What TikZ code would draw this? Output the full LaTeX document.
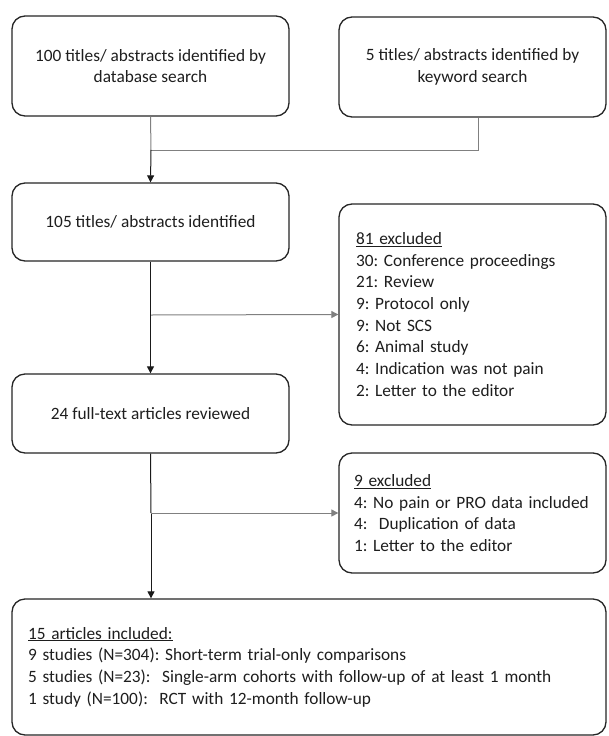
\documentclass[tikz,border=0pt]{standalone}
\usepackage{fontspec}
\setmainfont{Carlito}
\usetikzlibrary{arrows.meta}
\definecolor{boxc}{HTML}{262626}
\definecolor{txtc}{HTML}{1E1E1E}
\definecolor{mainc}{HTML}{1A1A1A}
\definecolor{branchc}{HTML}{808080}
\frenchspacing
\hyphenpenalty=10000
\begin{document}
\begin{tikzpicture}[x=1pt,y=-1pt,
  box/.style={draw=boxc, line width=1.3pt, rounded corners=13pt,
    font=\fontsize{17.3pt}{21.7pt}\selectfont\frenchspacing,
    text=txtc, inner sep=0pt},
  cbox/.style={box, align=center},
  lbox/.style={box, align=left},
  mainline/.style={draw=mainc, line width=1pt},
  branchline/.style={draw=branchc, line width=1pt},
  tip/.style={-{Triangle[length=7pt,width=7pt]}}
]
\fill[white] (0,0) rectangle (608,736);
\useasboundingbox (0,0) rectangle (608,736);

\node[cbox, minimum width=277pt, minimum height=100pt] (b1) at (150.5,66)
  {100 titles/ abstracts identified by\\database search};
\node[cbox, minimum width=267pt, minimum height=100pt] (b2) at (472.5,67)
  {5 titles/ abstracts identified by\\keyword search};
\node[cbox, minimum width=277pt, minimum height=78pt] (b3) at (150.5,222)
  {105 titles/ abstracts identified};
\node[lbox, minimum height=221pt, text width=233pt, inner xsep=17pt] (b81) at (472.5,314.5)
  {\underline{81 excluded}\\
   30: Conference proceedings\\
   21: Review\\
   9: Protocol only\\
   9: Not SCS\\
   6: Animal study\\
   4: Indication was not pain\\
   2: Letter to the editor};
\node[lbox, minimum height=120pt, text width=237pt, inner xsep=15pt] (b9) at (472.5,513)
  {\underline{9 excluded}\\
   4: No pain or PRO data included\\
   4: \ Duplication of data\\
   1: Letter to the editor};
\node[lbox, minimum height=136pt, text width=562pt, inner xsep=16pt] (bf) at (309,667)
  {\underline{15 articles included:}\\
   9 studies (N=304): Short-term trial-only comparisons\\
   5 studies (N=23): \ Single-arm cohorts with follow-up of at least 1 month\\
   1 study (N=100): \ RCT with 12-month follow-up};
\node[cbox, minimum width=277pt, minimum height=79pt] (b4) at (150.5,413.5)
  {24 full-text articles reviewed};

\coordinate (m1) at (151,150);
\coordinate (s1) at (151,315);
\coordinate (s2) at (151,513);

\draw[branchline] (b1.south) -- (m1);
\draw[branchline] ([xshift=5.5pt]b2.south) |- (m1);
\draw[mainline, tip] (m1) -- (b3.north);

\draw[mainline, tip] (b3.south) -- (b4.north);
\draw[branchline, tip] (s1) -- (b81.west);

\draw[mainline] (b4.south) -- (s2);
\draw[mainline, tip] (s2) -- (s2 |- bf.north);
\draw[branchline, tip] (s2) -- (b9.west);
\end{tikzpicture}
\end{document}
